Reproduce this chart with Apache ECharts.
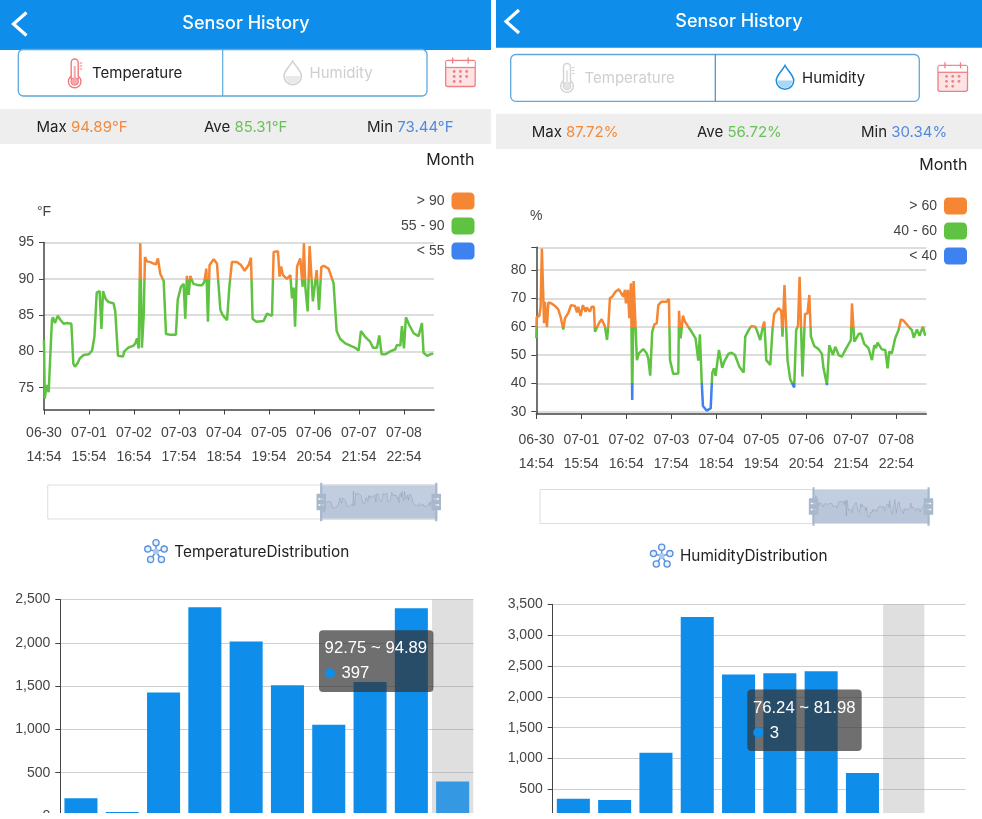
<!DOCTYPE html>
<html>
<head>
<meta charset="utf-8">
<style>
html, body { margin: 0; padding: 0; background: #fff; }
#main { width: 982px; height: 819px; }
</style>
<script src="https://cdn.jsdelivr.net/npm/echarts@6/dist/echarts.min.js"></script>
</head>
<body>
<div id="main"></div>
<script>
// line chart data, x is hours since 06-30 14:54
var tempHours = [0,0.4,1.1,1.5,2.6,3.5,4.4,5,6.1,7.6,8.5,9.3,10.9,12.8,15.2,16.3,17.2,18.7,19.8,22,24.8,26.7,28,28.5,29.3,30.9,31.9,32.8,34.3,35.9,38.7,39.6,40.4,41.1,43.9,44.6,46.7,49.8,50.7,51.7,52.6,53.5,54.4,55.4,56.1,57.2,59.1,60.9,62.2,63.3,64.6,66.5,67.2,67.8,70.2,73.3,74.3,76.1,77.6,78.5,79.4,80.4,81.3,82.2,83.1,85.9,87.8,89.1,90.2,91.1,92,94.3,96.1,97.2,98,99.3,101.7,103,104.4,107.2,109.4,111.5,113.7,115,115.9,117.8,122,123.9,126.7,127.6,130,130.9,131.7,132.8,135,136.9,137.8,138.7,139.5,140.6,142.4,143.7,144.4,145.2,146.5,147.6,148.5,149.4,150.4,151.5,152.8,154.1,155.4,158.1,160.9,161.9,162.6,163.7,164.6,167.4,170.2,173,174.8,176.1,178.5,181.3,182.8,185,186.3,186.9,187.6,189.6,192.4,195.2,196.1,198,198.9,200,201.1,203,205.4,208.1,210,210.9,212.9,214.6,216.3];
var tempValues = [81.6,73.5,73.5,75.4,74.4,74.6,84.3,84.7,83.9,84.9,84.9,84.3,83.8,83.9,83.8,78.3,77.9,78.4,79,79.5,79.6,80.1,82,82.2,88.1,88.3,83.1,88.3,87.2,86.8,86.6,85.5,85.3,79.4,79.3,80,80.5,80.8,81.1,81.8,80.4,94.89,80.5,85,93,92.4,92.3,92.1,92,92.8,90.7,89.7,89.6,82.4,82.3,82.3,87.1,88.9,89.3,84.5,90.4,87.8,90.4,89.8,89.3,89.1,89.1,89.6,91.4,84.1,91.9,92.7,92.1,91.9,85.7,85,84.3,88.9,92.3,92.3,91.9,91.1,91.9,92.9,84.5,84.1,84.2,85.2,84.9,93.7,93.8,90.3,91.7,90.5,90,90.5,87.3,88.8,83.4,91.7,92.8,88.9,94.89,88.9,85.5,94.5,94.4,86.9,86.8,91.2,85.7,91.6,91.8,91.4,89.4,89.4,82.8,82.7,81.7,81.1,80.8,80.5,80.1,82.8,82,81.3,80.5,80.5,82.2,82.2,79.6,79.6,80,80.3,80.9,80.8,83.5,80.4,84.7,83.6,82.5,82.1,83.9,79.8,79.4,79.6,79.7];

var humHours = [0,0.2,1.7,2.4,3.1,3.7,4.3,4.8,5.9,6.7,8.5,10.4,12.2,13.5,15,15.9,17.8,19.3,21.5,22.6,23.3,24.6,25.9,27.4,28,29.8,30.7,32,32.6,33.5,34.8,36.3,38.1,39.3,40,40.9,42.2,44.1,45.9,47,48.3,49.3,49.8,50.9,51.7,52.6,53.3,54.1,54.6,55.9,57,59.4,61.3,62.2,63.3,64.4,65.6,66.9,67.8,69.6,72.4,73.7,74.3,75.2,76.1,78.9,79.3,80.2,81.5,82.6,84.4,86.3,88.5,90,90.9,91.9,92.6,94.6,96.9,97.8,98.7,99.6,101.5,103.3,104.4,106.7,108.5,110.4,112.8,115.2,116.1,118,119.4,121.7,122.6,123.5,124.4,125.9,126.7,127.8,130,131.3,132.2,134.6,136.1,136.8,137.9,138.7,139.6,141.1,143.3,144.4,145.4,146.3,147,147.9,148.5,149.3,150.7,151.7,152.6,154.4,156.9,158.7,159.6,161.5,162.8,163.7,164.8,166.1,168,169.8,171.7,173,174.8,175.4,176.3,176.7,179.1,180.4,182.2,184.6,186.5,187.8,188.7,189.6,192,193.9,195.2,196.1,197.6,199.4,201.3,202.6,204.1,206.9,208.7,209.7,211.5,213,214.8,216.1];
var humValues = [55.9,63.3,63.8,67,87.6,87.6,61.2,68.8,59.8,68.5,68.2,67.3,66.1,63.5,59,62.9,64.9,67.6,67.3,65,67,63.8,67.6,65.3,66.8,65.3,67,67,58.2,58.8,61.2,62.6,60.2,55.3,60,70,70.6,72.4,73.2,73.3,70.6,73,68.2,73,63,75.3,34.1,76.1,76.1,48.2,50.6,52.1,50.6,48.8,42.7,58.2,60.8,61.2,67.6,68.8,68.8,69.8,48.2,47.6,43.3,43.5,65.6,55.9,63.9,61.8,60,58.2,55.9,48,57.3,40.6,32,30.4,31.2,43.8,45.3,42.7,51.8,45.5,47.6,50.4,50.8,50,45.9,43.8,56.5,58.8,60.2,60,58.6,58.2,55.3,60,61.8,48.2,46.5,59.4,64.5,66.5,65.6,56.5,74.7,74.7,48.2,41.4,38.6,58.8,60.2,77.6,77.6,42.4,42.4,64.5,64.7,71.2,56.5,53.2,52,50.4,45.3,39.4,53.5,53.5,50,52.9,50,49.4,51.8,53.2,55.3,68.2,68.2,54.7,57.4,57.6,53.9,52.4,48.2,53.5,52.4,54.4,52,51.8,45.3,51.2,50.6,55.9,58.8,62.6,62.1,60,58.8,56.1,59,56.8,60,56.8];

var xTickHours = [0,25,50,75,100,125,150,175,200];
var xTickLabels = ['06-30\n14:54','07-01\n15:54','07-02\n16:54','07-03\n17:54','07-04\n18:54','07-05\n19:54','07-06\n20:54','07-07\n21:54','07-08\n22:54'];
var tempTicks = [75,80,85,90,95];
var humTicks = [30,40,50,60,70,80,88];
var humLabelTicks = [30,40,50,60,70,80];

// distribution bars
var tempRanges = ['73.44 ~ 75.59','75.59 ~ 77.73','77.73 ~ 79.88','79.88 ~ 82.02','82.02 ~ 84.17','84.17 ~ 86.31','86.31 ~ 88.46','88.46 ~ 90.60','90.60 ~ 92.75','92.75 ~ 94.89'];
var tempCounts = [204,46,1427,2411,2015,1511,1054,1546,2400,397];
var humRanges = ['30.34 ~ 36.08','36.08 ~ 41.82','41.82 ~ 47.55','47.55 ~ 53.29','53.29 ~ 59.03','59.03 ~ 64.77','64.77 ~ 70.51','70.51 ~ 76.24','76.24 ~ 81.98','81.98 ~ 87.72'];
var humCounts = [346,324,1092,3297,2362,2384,2416,762,3,1];
var tempHover = 9;
var humHover = 8;

var ORANGE = '#f58634', GREEN = '#5fc341', BLUE = '#3d82ee', HEAD = '#0e8eea';
var AXIS_FONT = 'Liberation Sans';
var UI_FONT = 'Inter';

// water drop outline for the humidity tab
echarts.graphic.registerShape('drop', echarts.graphic.extendShape({
    shape: { cx: 0, cy: 0 },
    buildPath: function (ctx, s) {
        var x = s.cx, y = s.cy;
        ctx.moveTo(x, y - 12);
        ctx.bezierCurveTo(x + 2.5, y - 7, x + 8.7, y - 2.5, x + 8.7, y + 3);
        ctx.arc(x, y + 3, 8.7, 0, Math.PI);
        ctx.bezierCurveTo(x - 8.7, y - 2.5, x - 2.5, y - 7, x, y - 12);
        ctx.closePath();
    }
}));

var myChart = echarts.init(document.getElementById('main'));

function lineGrid(left, top, height) {
    return { left: left, top: top, width: 390, height: height, outerBoundsMode: 'none' };
}

function lineXAxis(gridIndex, margin) {
    return {
        type: 'value', gridIndex: gridIndex, min: 0, max: 216.7,
        splitLine: { show: false },
        axisLine: { onZero: false, lineStyle: { color: '#444', width: 1.5 } },
        axisTick: { customValues: xTickHours, length: 5, lineStyle: { color: '#444' } },
        axisLabel: {
            customValues: xTickHours, margin: margin, color: '#444', fontSize: 14, lineHeight: 24,
            fontFamily: AXIS_FONT, hideOverlap: false,
            formatter: function (v) { return xTickLabels[xTickHours.indexOf(v)]; }
        }
    };
}

function lineYAxis(gridIndex, name, min, max, ticks, labelTicks, nameGap) {
    return {
        type: 'value', gridIndex: gridIndex, min: min, max: max, name: name, nameGap: nameGap,
        nameTextStyle: { color: '#444', fontSize: 14, fontFamily: AXIS_FONT },
        splitLine: { lineStyle: { color: '#d2d2d2', width: 1.5 } },
        axisLine: { show: true, lineStyle: { color: '#444', width: 1.5 } },
        axisTick: { show: true, customValues: ticks, length: 5, lineStyle: { color: '#444' } },
        axisLabel: { customValues: labelTicks, margin: 10, color: '#444', fontSize: 14, fontFamily: AXIS_FONT }
    };
}

function lineSeries(idx, hours, values) {
    return {
        type: 'line', xAxisIndex: idx, yAxisIndex: idx, showSymbol: false, symbol: 'none',
        lineStyle: { width: 2.5 }, silent: true,
        data: hours.map(function (h, i) { return [h, values[i]]; })
    };
}

function pieceMap(idx, right, top, lo, hi) {
    return {
        type: 'piecewise', seriesIndex: idx, dimension: 1, right: right, top: top,
        orient: 'vertical', align: 'right', selectedMode: false,
        itemSymbol: 'roundRect', itemWidth: 23, itemHeight: 17, itemGap: 8, textGap: 7,
        textStyle: { color: '#444', fontSize: 14, fontFamily: AXIS_FONT },
        pieces: [
            { gt: hi, label: '> ' + hi, color: ORANGE },
            { gte: lo, lte: hi, label: lo + ' - ' + hi, color: GREEN },
            { lt: lo, label: '< ' + lo, color: BLUE }
        ]
    };
}

function barGrid(left, top, height) {
    return { left: left, top: top, width: 413, height: height, outerBoundsMode: 'none' };
}

function barYAxis(gridIndex, max) {
    return {
        type: 'value', gridIndex: gridIndex, min: 0, max: max, interval: 500,
        splitLine: { lineStyle: { color: '#cfcfcf', width: 1 } },
        axisLine: { show: true, lineStyle: { color: '#444', width: 1 } },
        axisTick: { show: true, length: 5, lineStyle: { color: '#444' } },
        axisLabel: { margin: 10, color: '#444', fontSize: 14, fontFamily: AXIS_FONT }
    };
}

function barXAxis(gridIndex, ranges, shown) {
    return {
        type: 'category', gridIndex: gridIndex, data: ranges, show: shown,
        axisLine: { show: false }, axisTick: { show: false }, axisLabel: { show: false }
    };
}

function barSeries(idx, counts, hover) {
    return {
        type: 'bar', xAxisIndex: idx, yAxisIndex: idx, barWidth: '80%', z: 3, silent: true,
        itemStyle: { color: HEAD },
        data: counts.map(function (c, i) {
            return i === hover ? { value: c, itemStyle: { color: '#3498e2' } } : c;
        })
    };
}

// the grey band behind the hovered bar
function bandSeries(xIdx, yIdx, counts, hover, max) {
    return {
        type: 'bar', xAxisIndex: xIdx, yAxisIndex: yIdx, barWidth: '100%', z: 1, silent: true,
        itemStyle: { color: 'rgba(150,150,150,0.3)' },
        data: counts.map(function (c, i) { return i === hover ? max : null; })
    };
}

// slider preview only fills the selected 30%, the rest of the range has no data
function previewValues(values) {
    var pad = Math.round(values.length * 7 / 3);
    var out = [];
    for (var i = 0; i < pad; i++) out.push(null);
    return out.concat(values);
}

function previewSeries(idx, values) {
    return {
        type: 'line', xAxisIndex: idx, yAxisIndex: idx, symbol: 'none', silent: true,
        lineStyle: { opacity: 0 }, data: previewValues(values)
    };
}

function slider(idx, left, top) {
    return {
        type: 'slider', xAxisIndex: idx, filterMode: 'none', start: 70, end: 100,
        left: left, top: top, width: 390, height: 35, showDetail: false, brushSelect: false,
        showDataShadow: true, moveHandleSize: 0, zoomLock: false,
        borderColor: '#ddd', backgroundColor: 'rgba(0,0,0,0)',
        fillerColor: 'rgba(120,145,185,0.45)',
        dataBackground: { lineStyle: { opacity: 0 }, areaStyle: { opacity: 0 } },
        selectedDataBackground: {
            lineStyle: { color: '#6f7f95', opacity: 0.6, width: 0.5 },
            areaStyle: { color: '#7f8ea3', opacity: 0.12 }
        },
        handleIcon: 'M8.2,13.6V3.9H6.3v9.7H3.1v14.9h3.3v9.7h1.8v-9.7h3.3V13.6H8.2z M9.7,24.4H4.8v-1.4h4.9V24.4z M9.7,19.1H4.8v-1.4h4.9V19.1z',
        handleSize: '110%',
        handleStyle: { color: '#a7b7cc', borderColor: '#a7b7cc', borderWidth: 0 }
    };
}

function indexList(values) {
    return previewValues(values).map(function (v, i) { return i; });
}

/* ---------- phone screen chrome ---------- */
function txt(x, y, text, font, fill, align) {
    return {
        type: 'text', z: 50,
        style: { x: x, y: y, text: text, font: font, fill: fill, align: align || 'center', verticalAlign: 'middle' }
    };
}

function rect(x, y, w, h, fill, r, stroke, lw) {
    return {
        type: 'rect', z: 40,
        shape: { x: x, y: y, width: w, height: h, r: r || 0 },
        style: { fill: fill, stroke: stroke || null, lineWidth: lw || 0 }
    };
}

function stat(x, y, label, value, color) {
    return {
        type: 'text', z: 50,
        style: {
            x: x, y: y, verticalAlign: 'middle', align: 'left',
            text: '{a|' + label + ' }{b|' + value + '}',
            rich: {
                a: { fill: '#222', fontSize: 15, fontFamily: UI_FONT },
                b: { fill: color, fontSize: 15, fontFamily: UI_FONT }
            }
        }
    };
}

function chevron(x, y) {
    return {
        type: 'polyline', z: 50,
        shape: { points: [[x + 13, y], [x, y + 11.5], [x + 13, y + 23]] },
        style: { fill: null, stroke: '#fff', lineWidth: 3.2 }
    };
}

function thermometer(cx, y, color, fillColor) {
    return [
        { type: 'circle', z: 50, shape: { cx: cx, cy: y + 22.5, r: 6.3 }, style: { fill: '#fff', stroke: color, lineWidth: 1.4 } },
        { type: 'rect', z: 50, shape: { x: cx - 3.5, y: y, width: 7, height: 20, r: [3.5, 3.5, 0, 0] }, style: { fill: '#fff', stroke: color, lineWidth: 1.4 } },
        { type: 'rect', z: 51, shape: { x: cx - 2.7, y: y + 17, width: 5.4, height: 4.5 }, style: { fill: '#fff' } },
        { type: 'circle', z: 52, shape: { cx: cx, cy: y + 22.5, r: 3.8 }, style: { fill: fillColor, stroke: color, lineWidth: 1 } },
        { type: 'rect', z: 52, shape: { x: cx - 1, y: y + 7, width: 2, height: 14 }, style: { fill: fillColor } },
        { type: 'line', z: 51, shape: { x1: cx + 5, y1: y + 4, x2: cx + 7.5, y2: y + 4 }, style: { stroke: color, lineWidth: 1 } },
        { type: 'line', z: 51, shape: { x1: cx + 5, y1: y + 7, x2: cx + 7.5, y2: y + 7 }, style: { stroke: color, lineWidth: 1 } },
        { type: 'line', z: 51, shape: { x1: cx + 5, y1: y + 10, x2: cx + 7.5, y2: y + 10 }, style: { stroke: color, lineWidth: 1 } }
    ];
}

function droplet(cx, cy, color, fillColor) {
    return [
        { type: 'drop', z: 50, shape: { cx: cx, cy: cy }, style: { fill: '#fff', stroke: color, lineWidth: 1.6 } },
        { type: 'sector', z: 51, shape: { cx: cx, cy: cy + 3, r: 7.4, startAngle: 0, endAngle: Math.PI, clockwise: true }, style: { fill: fillColor } }
    ];
}

function calendar(x, y) {
    var out = [];
    var c = '#f07f84';
    out.push(rect(x, y + 3, 29.5, 26, '#fde3e4', 2, c, 1.3));
    out.push({ type: 'rect', z: 41, shape: { x: x + 0.6, y: y + 3.6, width: 28.3, height: 6.5 }, style: { fill: '#fff' } });
    out.push({ type: 'line', z: 42, shape: { x1: x, y1: y + 10, x2: x + 29.5, y2: y + 10 }, style: { stroke: c, lineWidth: 1.3 } });
    [7, 22.5].forEach(function (dx) {
        out.push({ type: 'line', z: 42, shape: { x1: x + dx, y1: y, x2: x + dx, y2: y + 6 }, style: { stroke: c, lineWidth: 1.3 } });
    });
    [14, 19, 24].forEach(function (dy, row) {
        [8.5, 14.7, 21].forEach(function (dx, col) {
            if (row === 2 && col === 2) return;
            out.push({ type: 'circle', z: 42, shape: { cx: x + dx, cy: y + dy, r: 1.4 }, style: { fill: c } });
        });
    });
    return out;
}

function netIcon(cx, cy) {
    var out = [];
    var c = '#5a90da';
    var spots = [[0, -8.7], [8.2, -2.4], [5.4, 8], [-5.4, 8], [-8.2, -2.4]];
    spots.forEach(function (s) {
        out.push({ type: 'line', z: 50, shape: { x1: cx, y1: cy, x2: cx + s[0], y2: cy + s[1] }, style: { stroke: c, lineWidth: 1.5 } });
        out.push({ type: 'circle', z: 51, shape: { cx: cx + s[0], cy: cy + s[1], r: 3.1 }, style: { fill: '#e8f0fb', stroke: c, lineWidth: 1.3 } });
    });
    out.push({ type: 'circle', z: 51, shape: { cx: cx, cy: cy, r: 3 }, style: { fill: '#a9c7ef' } });
    return out;
}

function tipBox(x, y, range, count) {
    return [
        { type: 'rect', z: 90, shape: { x: x, y: y, width: 114.4, height: 61.6, r: 4 }, style: { fill: 'rgba(50,50,50,0.7)' } },
        { type: 'text', z: 91, style: { x: x + 5.6, y: y + 18.5, text: range, font: '16.7px ' + AXIS_FONT, fill: '#fff', align: 'left', verticalAlign: 'middle' } },
        { type: 'circle', z: 91, shape: { cx: x + 11, cy: y + 43, r: 5 }, style: { fill: HEAD } },
        { type: 'text', z: 91, style: { x: x + 22.5, y: y + 43.5, text: String(count), font: '16.7px ' + AXIS_FONT, fill: '#fff', align: 'left', verticalAlign: 'middle' } }
    ];
}

var chrome = [];
// left phone
chrome.push(rect(0, 0, 491, 50, HEAD));
chrome.push(chevron(13.5, 12.5));
chrome.push(txt(246, 23.7, 'Sensor History', '500 18px ' + UI_FONT, '#fff'));
chrome.push(rect(18.3, 49.5, 408.7, 46.5, '#fff', 5, '#5fa8dc', 1.3));
chrome.push({ type: 'line', z: 41, shape: { x1: 222.7, y1: 49.5, x2: 222.7, y2: 96 }, style: { stroke: '#5fa8dc', lineWidth: 1.2 } });
chrome = chrome.concat(thermometer(74.7, 59, '#ee7b7f', '#f6a9ab'));
chrome.push(txt(92, 73, 'Temperature', '15px ' + UI_FONT, '#222', 'left'));
chrome = chrome.concat(droplet(292.7, 73, '#d3d3d3', '#e9e9e9'));
chrome.push(txt(309.5, 73, 'Humidity', '15px ' + UI_FONT, '#cfcfcf', 'left'));
chrome = chrome.concat(calendar(445.7, 57.5));
chrome.push(rect(0, 109, 491, 35, '#eeeeee'));
chrome.push(stat(36.5, 127.5, 'Max', '94.89°F', '#f28a3c'));
chrome.push(stat(204, 127.5, 'Ave', '85.31°F', '#69c257'));
chrome.push(stat(367, 127.5, 'Min', '73.44°F', '#5288dc'));
chrome.push(txt(474.5, 160.5, 'Month', '16px ' + UI_FONT, '#222', 'right'));
chrome = chrome.concat(netIcon(156, 551.5));
chrome.push(txt(174.3, 552, 'TemperatureDistribution', '15.3px ' + UI_FONT, '#222', 'left'));
chrome = chrome.concat(tipBox(319, 630.3, tempRanges[tempHover], tempCounts[tempHover]));
// right phone
chrome.push(rect(496, 0, 486, 47.7, HEAD));
chrome.push(chevron(506, 10));
chrome.push(txt(739, 21.3, 'Sensor History', '500 18px ' + UI_FONT, '#fff'));
chrome.push(rect(510.7, 54.5, 408.6, 46.8, '#fff', 5, '#5fa8dc', 1.3));
chrome.push({ type: 'line', z: 41, shape: { x1: 715.3, y1: 54.5, x2: 715.3, y2: 101.3 }, style: { stroke: '#3f8fd0', lineWidth: 1.2 } });
chrome = chrome.concat(thermometer(567, 63.5, '#d3d3d3', '#e4e4e4'));
chrome.push(txt(584.5, 78, 'Temperature', '15px ' + UI_FONT, '#cfcfcf', 'left'));
chrome = chrome.concat(droplet(785, 77.5, '#1f8fe0', '#a9d6f5'));
chrome.push(txt(802, 78, 'Humidity', '15px ' + UI_FONT, '#222', 'left'));
chrome = chrome.concat(calendar(938, 62.3));
chrome.push(rect(496, 113.7, 486, 35.3, '#eeeeee'));
chrome.push(stat(531.7, 132.3, 'Max', '87.72%', '#f28a3c'));
chrome.push(stat(697, 132.3, 'Ave', '56.72%', '#69c257'));
chrome.push(stat(861, 132.3, 'Min', '30.34%', '#5288dc'));
chrome.push(txt(967.5, 165.5, 'Month', '16px ' + UI_FONT, '#222', 'right'));
chrome = chrome.concat(netIcon(661.7, 556));
chrome.push(txt(680, 556.7, 'HumidityDistribution', '15.3px ' + UI_FONT, '#222', 'left'));
chrome = chrome.concat(tipBox(747.3, 689.5, humRanges[humHover], humCounts[humHover]));
// screenshots are cut off here
chrome.push({ type: 'rect', z: 95, shape: { x: 0, y: 813, width: 982, height: 6 }, style: { fill: '#fff' } });

var option = {
    animation: false,
    backgroundColor: '#fff',
    grid: [
        lineGrid(44, 242.5, 167),
        lineGrid(536.3, 247.3, 166.7),
        barGrid(60.3, 599.5, 216.5),
        barGrid(552.7, 604.5, 215.5),
        { left: 47, top: 484.5, width: 390, height: 35, outerBoundsMode: 'none' },
        { left: 539.3, top: 489, width: 390, height: 35, outerBoundsMode: 'none' }
    ],
    xAxis: [
        lineXAxis(0, 12),
        lineXAxis(1, 14),
        barXAxis(2, tempRanges, true),
        barXAxis(3, humRanges, true),
        { type: 'category', gridIndex: 4, show: false, boundaryGap: false, data: indexList(tempValues) },
        { type: 'category', gridIndex: 5, show: false, boundaryGap: false, data: indexList(humValues) },
        barXAxis(2, tempRanges, false),
        barXAxis(3, humRanges, false)
    ],
    yAxis: [
        lineYAxis(0, '°F', 72, 95, tempTicks, tempTicks, 23),
        lineYAxis(1, '%', 29.2, 88, humTicks, humLabelTicks, 24),
        barYAxis(2, 2500),
        barYAxis(3, 3500),
        { type: 'value', gridIndex: 4, show: false, scale: true },
        { type: 'value', gridIndex: 5, show: false, scale: true }
    ],
    visualMap: [
        pieceMap(0, 492.5, 177.5, 55, 90),
        pieceMap(1, 0, 182.5, 40, 60)
    ],
    dataZoom: [slider(4, 47, 484.5), slider(5, 539.3, 489)],
    series: [
        lineSeries(0, tempHours, tempValues),
        lineSeries(1, humHours, humValues),
        barSeries(2, tempCounts, tempHover),
        barSeries(3, humCounts, humHover),
        previewSeries(4, tempValues),
        previewSeries(5, humValues),
        bandSeries(6, 2, tempCounts, tempHover, 2500),
        bandSeries(7, 3, humCounts, humHover, 3500)
    ],
    graphic: { elements: chrome }
};

myChart.setOption(option);
</script>
</body>
</html>
